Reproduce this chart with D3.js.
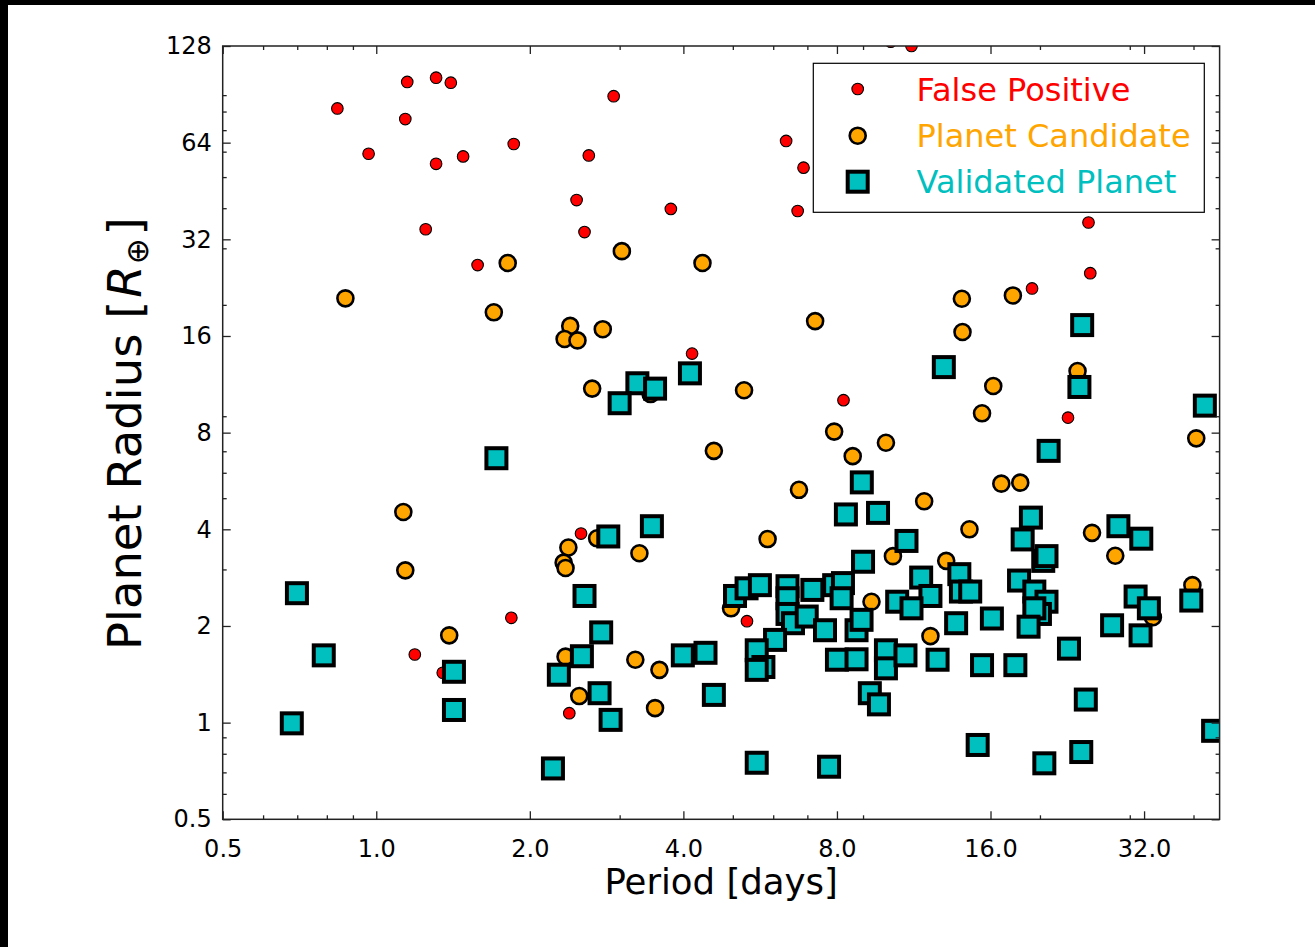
<!DOCTYPE html>
<html>
<head>
<meta charset="utf-8">
<script src="https://cdn.jsdelivr.net/npm/d3@7"></script>
<style>
  html, body { margin: 0; padding: 0; background: #fff; }
  svg { display: block; font-family: "DejaVu Sans", sans-serif; }
</style>
</head>
<body>
<svg id="chart" width="1315" height="947"></svg>
<script>
// ---------------- data ----------------
const fpPeriod = [0.839, 0.966, 1.15, 1.31, 1.40, 1.14, 1.25, 1.31, 1.48, 1.58, 1.86, 2.92, 2.61, 2.47, 3.78, 2.56, 6.36, 6.88, 6.70, 4.16, 8.24, 11.2, 10.2, 24.9, 25.1, 19.3, 22.7, 1.84, 1.19, 1.35, 2.52, 5.33, 2.39];
const fpRadius = [81.8, 59.1, 98.9, 102, 98.4, 75.8, 34.4, 55.0, 58.0, 26.6, 63.4, 89.3, 58.4, 42.4, 39.8, 33.7, 64.8, 53.5, 39.2, 14.1, 10.1, 128, 132, 36.1, 25.1, 22.5, 8.91, 2.12, 1.63, 1.43, 3.88, 2.07, 1.07];

const pcPeriod = [0.87, 1.81, 1.70, 3.03, 4.36, 2.40, 2.34, 2.48, 2.78, 7.25, 2.65, 5.26, 3.45, 7.90, 9.98, 4.59, 8.59, 6.74, 5.85, 2.38, 2.71, 2.33, 2.35, 3.28, 9.35, 4.96, 2.35, 3.22, 3.59, 2.50, 3.52, 1.13, 1.14, 1.39, 40.5, 16.8, 18.3, 11.86, 14.55, 25.3, 10.3, 13.1, 28.1, 39.8, 33.3, 12.2, 14.06, 17.7, 14.1, 16.2, 15.4, 23.7];
const pcRadius = [20.96, 27.0, 18.96, 29.4, 27.0, 17.2, 15.66, 15.5, 16.8, 17.8, 10.97, 10.84, 10.55, 8.06, 7.44, 7.02, 6.76, 5.31, 3.73, 3.51, 3.75, 3.15, 3.03, 3.37, 2.38, 2.27, 1.605, 1.57, 1.46, 1.21, 1.11, 4.53, 2.98, 1.87, 7.68, 5.55, 5.59, 4.89, 4.0, 3.90, 3.30, 3.19, 3.31, 2.68, 2.13, 1.86, 20.9, 21.4, 16.46, 11.18, 9.19, 12.45];

const vpPeriod = [0.699, 0.789, 0.683, 1.42, 1.42, 1.72, 2.22, 2.28, 2.85, 3.47, 3.25, 3.52, 3.00, 4.12, 2.56, 2.76, 2.53, 2.74, 2.88, 3.99, 4.42, 4.59, 5.57, 7.72, 8.95, 8.33, 9.63, 9.0, 5.05, 5.32, 5.65, 6.40, 6.40, 6.40, 6.56, 7.16, 6.98, 7.90, 8.22, 8.17, 7.58, 8.74, 8.94, 6.05, 5.57, 5.74, 5.57, 8.0, 8.74, 9.98, 9.98, 9.28, 9.67, 20.8, 10.95, 19.2, 18.5, 20.3, 20.6, 28.5, 31.6, 11.7, 13.9, 14.0, 14.6, 12.2, 10.5, 11.2, 18.2, 19.5, 20.6, 20.0, 19.5, 19.0, 13.7, 16.1, 30.8, 32.7, 39.6, 27.7, 31.5, 22.8, 10.9, 12.6, 15.4, 17.9, 24.6, 15.1, 24.1, 20.4, 43.7, 12.96, 24.2, 23.9, 42.1];
const vpRadius = [2.53, 1.62, 0.995, 1.44, 1.095, 6.66, 0.72, 1.41, 3.80, 4.09, 11.4, 10.97, 9.88, 12.24, 2.48, 1.91, 1.61, 1.235, 1.02, 1.62, 1.65, 1.22, 0.75, 0.729, 5.60, 4.45, 4.50, 3.17, 2.48, 2.62, 2.68, 2.66, 2.44, 2.18, 2.04, 2.59, 2.14, 2.68, 2.72, 2.44, 1.94, 1.94, 2.09, 1.81, 1.68, 1.49, 1.46, 1.57, 1.575, 1.68, 1.476, 1.235, 1.14, 7.02, 3.68, 4.35, 3.72, 3.19, 3.30, 4.09, 3.74, 2.83, 2.90, 2.56, 2.56, 2.48, 2.38, 2.27, 2.77, 2.56, 2.38, 2.18, 2.27, 1.99, 2.04, 2.11, 2.47, 2.27, 2.40, 2.01, 1.87, 1.70, 1.62, 1.57, 1.51, 1.51, 1.18, 0.852, 0.81, 0.747, 0.943, 12.8, 17.3, 11.1, 9.71];

const xDomain = [0.5, 45];
const yDomain = [0.5, 128];
const xMajorTicks = [0.5, 1, 2, 4, 8, 16, 32];
const xMinorTicks = [0.6, 0.7, 0.8, 0.9, 3, 5, 6, 7, 9, 20, 30, 40];
const yMajorTicks = [0.5, 1, 2, 4, 8, 16, 32, 64, 128];
const yMinorTicks = [0.6, 0.7, 0.8, 0.9, 3, 5, 6, 7, 9, 20, 30, 40, 50, 60, 70, 80, 90];
const xTickLabels = ["0.5", "1.0", "2.0", "4.0", "8.0", "16.0", "32.0"];
const yTickLabels = ["0.5", "1", "2", "4", "8", "16", "32", "64", "128"];

const legendLabels = ["False Positive", "Planet Candidate", "Validated Planet"];
const seriesColors = ["#ff0000", "#ffa500", "#00bfbf"];

// ---------------- layout ----------------
const W = 1315, H = 947;
const L = 222.7, R = 1219.6, T = 46, B = 819.3;

const svg = d3.select("#chart");
svg.append("rect").attr("width", W).attr("height", H).attr("fill", "#fff");
// dark frame strips seen at the edge of the reference picture
svg.append("rect").attr("x", 0).attr("y", 0).attr("width", W).attr("height", 5).attr("fill", "#000");
svg.append("rect").attr("x", 0).attr("y", 0).attr("width", 8).attr("height", H).attr("fill", "#000");

const x = d3.scaleLog().base(2).domain(xDomain).range([L, R]);
const y = d3.scaleLog().base(2).domain(yDomain).range([B, T]);

svg.append("defs").append("clipPath").attr("id", "plotclip")
  .append("rect").attr("x", L).attr("y", T).attr("width", R - L).attr("height", B - T);

// ---------------- points ----------------
const pts = svg.append("g").attr("clip-path", "url(#plotclip)");

const fp = fpPeriod.map((p, i) => ({ p, r: fpRadius[i] }));
const pc = pcPeriod.map((p, i) => ({ p, r: pcRadius[i] }));
const vp = vpPeriod.map((p, i) => ({ p, r: vpRadius[i] }));

pts.selectAll("circle.fp").data(fp).enter().append("circle")
  .attr("class", "fp")
  .attr("cx", d => x(d.p)).attr("cy", d => y(d.r)).attr("r", 5.8)
  .attr("fill", seriesColors[0]).attr("stroke", "#000").attr("stroke-width", 1.1);

pts.selectAll("circle.pc").data(pc).enter().append("circle")
  .attr("class", "pc")
  .attr("cx", d => x(d.p)).attr("cy", d => y(d.r)).attr("r", 8)
  .attr("fill", seriesColors[1]).attr("stroke", "#000").attr("stroke-width", 2.6);

const S = 20;
pts.selectAll("rect.vp").data(vp).enter().append("rect")
  .attr("class", "vp")
  .attr("x", d => x(d.p) - S / 2).attr("y", d => y(d.r) - S / 2)
  .attr("width", S).attr("height", S)
  .attr("fill", seriesColors[2]).attr("stroke", "#000").attr("stroke-width", 4);

// ---------------- axes ----------------
const tickColor = "#222";
function styleAxis(g) {
  g.select(".domain").remove();
  g.selectAll(".tick line").attr("stroke", tickColor).attr("stroke-width", 1.3);
  g.selectAll(".tick text").attr("fill", "#000").attr("font-size", "24px")
    .attr("font-family", "'DejaVu Sans', sans-serif");
}

// bottom
svg.append("g").attr("transform", `translate(0,${B})`)
  .call(d3.axisBottom(x).tickValues(xMajorTicks).tickSize(-8).tickPadding(21)
    .tickFormat((d, i) => xTickLabels[i]))
  .call(styleAxis);
svg.append("g").attr("transform", `translate(0,${B})`)
  .call(d3.axisBottom(x).tickValues(xMinorTicks).tickSize(-4).tickFormat(""))
  .call(styleAxis);
// top
svg.append("g").attr("transform", `translate(0,${T})`)
  .call(d3.axisTop(x).tickValues(xMajorTicks).tickSize(-8).tickFormat(""))
  .call(styleAxis);
svg.append("g").attr("transform", `translate(0,${T})`)
  .call(d3.axisTop(x).tickValues(xMinorTicks).tickSize(-4).tickFormat(""))
  .call(styleAxis);
// left
svg.append("g").attr("transform", `translate(${L},0)`)
  .call(d3.axisLeft(y).tickValues(yMajorTicks).tickSize(-8).tickPadding(11)
    .tickFormat((d, i) => yTickLabels[i]))
  .call(styleAxis);
svg.append("g").attr("transform", `translate(${L},0)`)
  .call(d3.axisLeft(y).tickValues(yMinorTicks).tickSize(-4).tickFormat(""))
  .call(styleAxis);
// right
svg.append("g").attr("transform", `translate(${R},0)`)
  .call(d3.axisRight(y).tickValues(yMajorTicks).tickSize(-8).tickFormat(""))
  .call(styleAxis);
svg.append("g").attr("transform", `translate(${R},0)`)
  .call(d3.axisRight(y).tickValues(yMinorTicks).tickSize(-4).tickFormat(""))
  .call(styleAxis);

// spines
svg.append("rect").attr("x", L).attr("y", T).attr("width", R - L).attr("height", B - T)
  .attr("fill", "none").attr("stroke", "#222").attr("stroke-width", 1.5);

// ---------------- axis labels ----------------
svg.append("text").attr("x", (L + R) / 2).attr("y", 894)
  .attr("text-anchor", "middle").attr("font-size", "35.5px").attr("fill", "#000")
  .text("Period [days]");

const yl = svg.append("text")
  .attr("transform", `translate(141,${(T + B) / 2 + 1}) rotate(-90)`)
  .attr("text-anchor", "middle").attr("font-size", "46.5px").attr("fill", "#000");
yl.append("tspan").text("Planet Radius [");
yl.append("tspan").attr("font-style", "italic").attr("dx", "3").text("R");
yl.append("tspan").attr("font-size", "31px").attr("dy", "7").attr("dx", "1").text("⊕");
yl.append("tspan").attr("dy", "-7").attr("dx", "3").text("]");

// ---------------- legend ----------------
const lg = svg.append("g");
lg.append("rect").attr("x", 813.3).attr("y", 63.3).attr("width", 391).attr("height", 149)
  .attr("fill", "#fff").attr("stroke", "#000").attr("stroke-width", 1.2);
const legendY = [89, 135.7, 181.7];
const mx = 857.7;
lg.append("circle").attr("cx", mx).attr("cy", legendY[0]).attr("r", 5.8)
  .attr("fill", seriesColors[0]).attr("stroke", "#000").attr("stroke-width", 1.1);
lg.append("circle").attr("cx", mx).attr("cy", legendY[1]).attr("r", 8)
  .attr("fill", seriesColors[1]).attr("stroke", "#000").attr("stroke-width", 2.6);
lg.append("rect").attr("x", mx - S / 2).attr("y", legendY[2] - S / 2).attr("width", S).attr("height", S)
  .attr("fill", seriesColors[2]).attr("stroke", "#000").attr("stroke-width", 4);
legendLabels.forEach((t, i) => {
  lg.append("text").attr("x", 916.5).attr("y", legendY[i] + 11.5)
    .attr("font-size", "32px").attr("fill", seriesColors[i]).text(t);
});
</script>
</body>
</html>
